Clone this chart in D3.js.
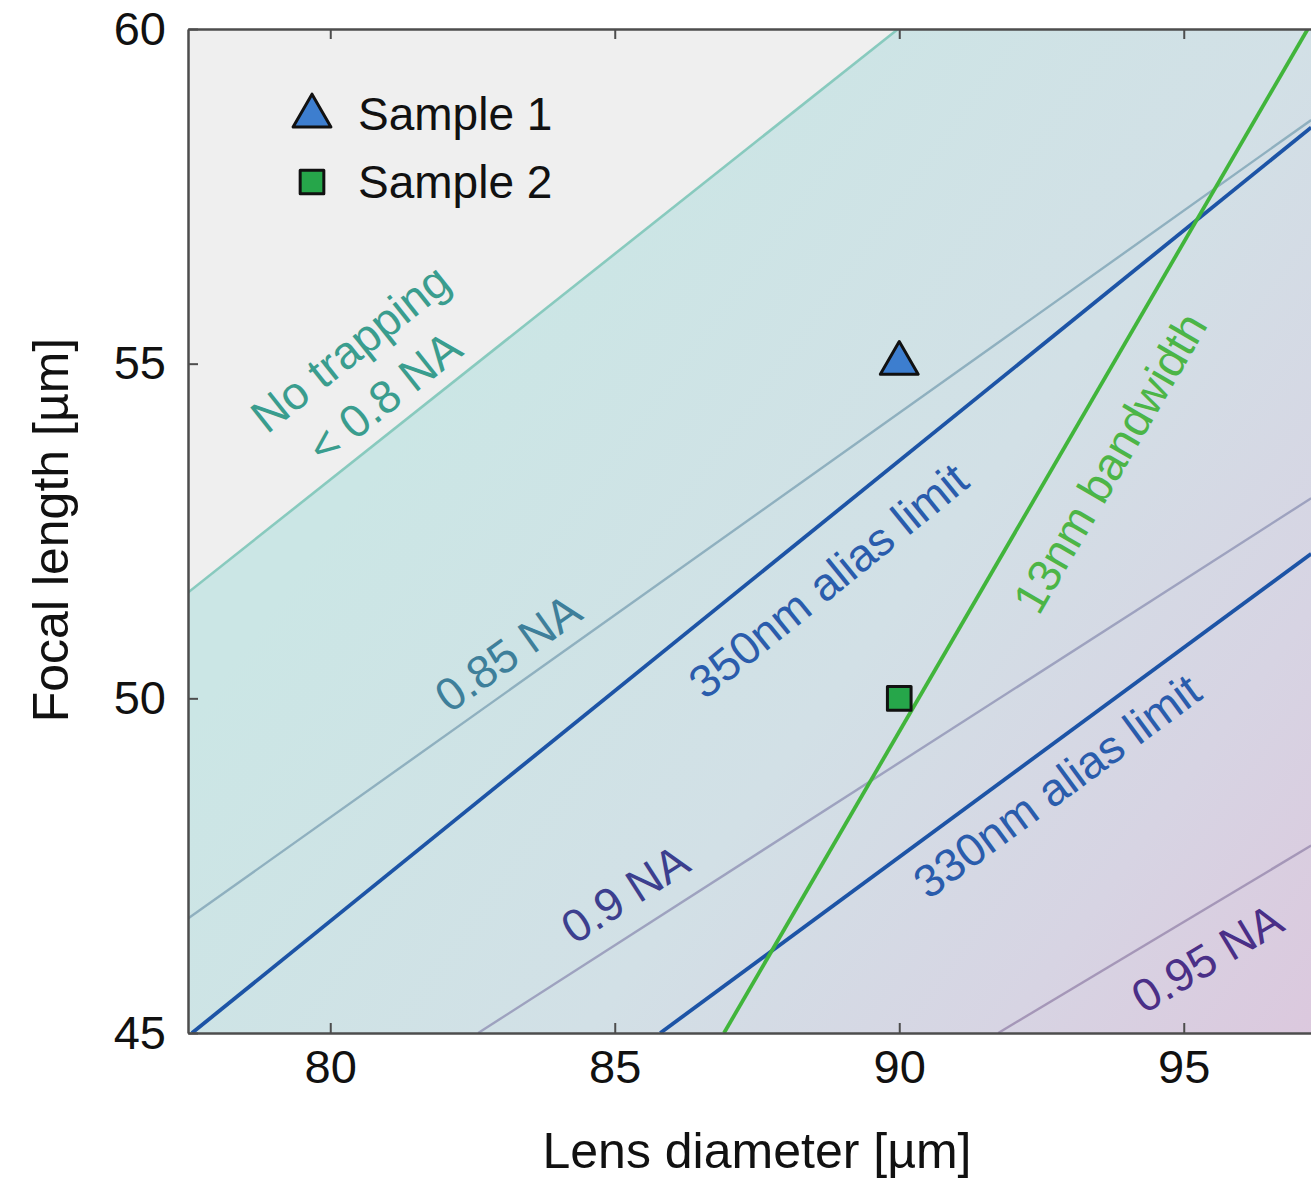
<!DOCTYPE html>
<html>
<head>
<meta charset="utf-8">
<script src="https://cdn.jsdelivr.net/npm/d3@7"></script>
<style>
  html, body { margin: 0; padding: 0; background: #ffffff; }
  svg { display: block; font-family: "Liberation Sans", Arial, Helvetica, sans-serif; }
</style>
</head>
<body>
<svg id="chart" width="1311" height="1178"></svg>
<script>
// Design-limit lines in the (lens diameter, focal length) plane, in µm.
const lineNames = ["0.8 NA", "0.85 NA", "350nm alias limit", "0.9 NA", "330nm alias limit", "13nm bandwidth", "0.95 NA"];
const lineStartD = [77.5, 77.5, 77.57, 82.6, 85.8, 86.92, 91.74];
const lineStartF = [51.58, 46.71, 45.0, 45.0, 45.0, 45.0, 45.0];
const lineEndD   = [89.98, 97.24, 97.24, 97.24, 97.24, 97.18, 97.24];
const lineEndF   = [60.0, 58.64, 58.53, 52.99, 52.16, 60.0, 47.8];

// Fabricated samples
const sampleNames = ["Sample 1", "Sample 2"];
const sampleD = [90, 90];
const sampleF = [55.05, 50];

// Axis ticks
const xTicks = [80, 85, 90, 95];
const yTicks = [45, 50, 55, 60];

const svg = d3.select("#chart");
const plotLeft = 188, plotTop = 29, plotBottom = 1033;

const x = d3.scaleLinear().domain([77.5, 100]).range([plotLeft, plotLeft + 22.5 * 56.9]);
const y = d3.scaleLinear().domain([45, 60]).range([plotBottom, plotTop]);
const plotRight = x(100);

// Line styles
const lineStyle = [
  { stroke: "#88cabe", width: 2.6 },
  { stroke: "#8fb0bf", width: 2.4 },
  { stroke: "#1d54a6", width: 3.8 },
  { stroke: "#9ea2bf", width: 2.4 },
  { stroke: "#1d54a6", width: 3.8 },
  { stroke: "#41b53b", width: 3.8 },
  { stroke: "#a597b8", width: 2.4 }
];

const defs = svg.append("defs");
defs.append("clipPath").attr("id", "plotClip")
  .append("rect").attr("x", plotLeft).attr("y", plotTop)
  .attr("width", plotRight - plotLeft).attr("height", plotBottom - plotTop);

const grad = defs.append("linearGradient").attr("id", "bgGrad")
  .attr("gradientUnits", "userSpaceOnUse")
  .attr("x1", 420).attr("y1", 400).attr("x2", 1330).attr("y2", 1060);
grad.append("stop").attr("offset", 0).attr("stop-color", "#cbe6e5");
grad.append("stop").attr("offset", 0.45).attr("stop-color", "#d2e0e6");
grad.append("stop").attr("offset", 0.75).attr("stop-color", "#d7d4e3");
grad.append("stop").attr("offset", 1).attr("stop-color", "#dcc7dd");

const plot = svg.append("g").attr("clip-path", "url(#plotClip)");

// Background: gradient everywhere, grey "no trapping" wedge above the 0.8 NA line
plot.append("rect").attr("x", plotLeft).attr("y", plotTop)
  .attr("width", plotRight - plotLeft).attr("height", plotBottom - plotTop)
  .attr("fill", "url(#bgGrad)");

plot.append("path")
  .attr("d", d3.line()([
    [x(lineStartD[0]), y(lineStartF[0])],
    [x(77.5), y(60)],
    [x(lineEndD[0]), y(lineEndF[0])]
  ]) + "Z")
  .attr("fill", "#efefef");

// Limit lines
lineNames.forEach((name, i) => {
  plot.append("line")
    .attr("x1", x(lineStartD[i])).attr("y1", y(lineStartF[i]))
    .attr("x2", x(lineEndD[i])).attr("y2", y(lineEndF[i]))
    .attr("stroke", lineStyle[i].stroke)
    .attr("stroke-width", lineStyle[i].width)
    .attr("stroke-linecap", "butt");
});

// Angle of each line on screen, used to rotate its label
function lineAngle(i) {
  const dx = x(lineEndD[i]) - x(lineStartD[i]);
  const dy = y(lineEndF[i]) - y(lineStartF[i]);
  return Math.atan2(dy, dx) * 180 / Math.PI;
}

// Line labels: text, line index, anchor point (D, F), colour
const labels = [
  { text: "No trapping", line: 0, d: 80.35, f: 55.23, color: "#3a9d8e" },
  { text: "< 0.8 NA",    line: 0, d: 80.95, f: 54.5, color: "#3a9d8e" },
  { text: "0.85 NA",     line: 1, d: 83.12, f: 50.68, color: "#3e7f9a" },
  { text: "350nm alias limit", line: 2, d: 88.75, f: 51.76, color: "#2a5cac" },
  { text: "0.9 NA",      line: 3, d: 85.18, f: 47.08, color: "#3c3f8e" },
  { text: "13nm bandwidth", line: 5, d: 93.70, f: 53.52, color: "#4cb547" },
  { text: "330nm alias limit", line: 4, d: 92.77, f: 48.69, color: "#2a5cac" },
  { text: "0.95 NA",     line: 6, d: 95.41, f: 46.12, color: "#4a2f87" }
];

labels.forEach(l => {
  const px = x(l.d), py = y(l.f);
  plot.append("text")
    .attr("transform", `translate(${px},${py}) rotate(${lineAngle(l.line)})`)
    .attr("text-anchor", "middle")
    .attr("dy", "0.35em")
    .attr("font-size", 46)
    .attr("fill", l.color)
    .text(l.text);
});

// Sample markers
const triangle = d3.symbol().type(d3.symbolTriangle).size(620);
const square = d3.symbol().type(d3.symbolSquare).size(560);
const sampleSymbol = [triangle, square];
const sampleFill = ["#3d7ecf", "#26a64a"];

sampleNames.forEach((s, i) => {
  plot.append("path")
    .attr("d", sampleSymbol[i]())
    .attr("transform", `translate(${x(sampleD[i])},${y(sampleF[i]) + (i === 0 ? 3 : 0)})`)
    .attr("fill", sampleFill[i])
    .attr("stroke", "#111")
    .attr("stroke-width", 3)
    .attr("stroke-linejoin", "round");
});

// Axes: inward ticks on the bottom, top and left
const frameColor = "#4d4d4d";
function styleAxis(g) {
  g.select(".domain").attr("stroke", frameColor).attr("stroke-width", 2.5);
  g.selectAll(".tick line").attr("stroke", frameColor).attr("stroke-width", 2);
  g.selectAll(".tick text").attr("fill", "#111").attr("font-size", 47)
    .attr("font-family", "'Liberation Sans', Arial, Helvetica, sans-serif");
}

svg.append("g").attr("transform", `translate(0,${plotBottom})`)
  .call(d3.axisBottom(x).tickValues(xTicks).tickSize(-10).tickSizeOuter(0).tickPadding(17))
  .call(styleAxis);

svg.append("g").attr("transform", `translate(0,${plotTop})`)
  .call(d3.axisTop(x).tickValues(xTicks).tickSize(-10).tickSizeOuter(0).tickFormat(""))
  .call(styleAxis);

svg.append("g").attr("transform", `translate(${plotLeft},0)`)
  .call(d3.axisLeft(y).tickValues(yTicks).tickSize(-10).tickSizeOuter(0).tickPadding(22))
  .call(styleAxis);

// Axis titles
svg.append("text")
  .attr("x", 757).attr("y", 1168)
  .attr("text-anchor", "middle")
  .attr("font-size", 50).attr("fill", "#111")
  .text("Lens diameter [µm]");

svg.append("text")
  .attr("transform", `translate(68,530) rotate(-90)`)
  .attr("text-anchor", "middle")
  .attr("font-size", 50).attr("fill", "#111")
  .text("Focal length [µm]");

// Legend
const legend = svg.append("g");
sampleNames.forEach((s, i) => {
  const ly = 114 + i * 68;
  legend.append("path")
    .attr("d", sampleSymbol[i]())
    .attr("transform", `translate(312,${ly + (i === 0 ? 2 : 0)})`)
    .attr("fill", sampleFill[i])
    .attr("stroke", "#111")
    .attr("stroke-width", 3)
    .attr("stroke-linejoin", "round");
  legend.append("text")
    .attr("x", 358).attr("y", ly + 16)
    .attr("font-size", 46).attr("fill", "#111")
    .text(s);
});
</script>
</body>
</html>
